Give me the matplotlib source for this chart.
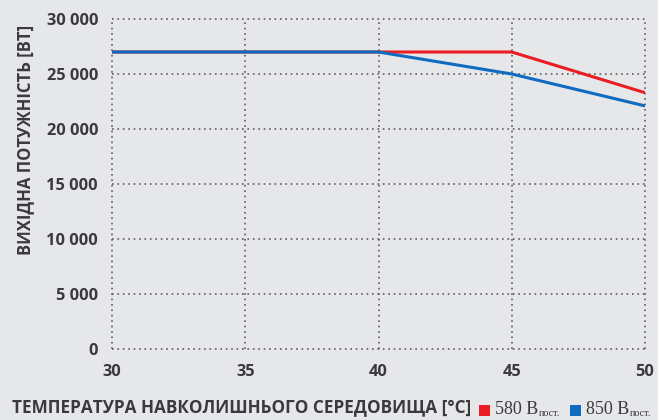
import matplotlib
matplotlib.use("Agg")
import matplotlib.pyplot as plt
from matplotlib.patches import Rectangle
from matplotlib import font_manager as fm

temps = [30, 35, 40, 45, 50]
power_580 = [27000, 27000, 27000, 27000, 23300]
power_850 = [27000, 27000, 27000, 25000, 22100]
xticks = [30, 35, 40, 45, 50]
yticks = [0, 5000, 10000, 15000, 20000, 25000, 30000]
ytick_labels = ["0", "5 000", "10 000", "15 000", "20 000", "25 000", "30 000"]
series_names = ["580 В", "850 В"]
sub_text = "пост."
xlabel = "ТЕМПЕРАТУРА НАВКОЛИШНЬОГО СЕРЕДОВИЩА [°C]"
ylabel = "ВИХІДНА ПОТУЖНІСТЬ [ВТ]"

BG = "#e6e7e9"
TXT = "#3a3a3c"
RED = "#ec1c24"
BLUE = "#0f6bbf"
GRID = "#5e5e60"

bold_path = None
for f in fm.fontManager.ttflist:
    if f.fname.endswith("OpenSans-Bold.ttf"):
        bold_path = f.fname
        break

def bprop(size):
    if bold_path:
        return fm.FontProperties(fname=bold_path, size=size)
    return fm.FontProperties(family='DejaVu Sans', weight='bold', size=size)

fig = plt.figure(figsize=(6.58, 4.2), dpi=100, facecolor=BG)
ax = fig.add_axes([112/658, 71/420, 533/658, 330/420], facecolor=BG)

ax.plot(temps, power_580, color=RED, lw=2.2, solid_capstyle='butt', zorder=3)
ax.plot(temps, power_850, color=BLUE, lw=2.2, solid_capstyle='butt', zorder=4)

ax.set_xlim(30, 50)
ax.set_ylim(0, 30000)
ax.set_xticks(xticks)
ax.set_xticklabels([str(t) for t in xticks])
ax.set_yticks(yticks)
ax.set_yticklabels(ytick_labels)
for s in ax.spines.values():
    s.set_visible(False)
ax.grid(True, color=GRID, linestyle=(0, (1, 2.25)), linewidth=1.2, clip_on=False)
ax.tick_params(axis='both', length=0, colors=TXT)
ax.tick_params(axis='y', pad=10)
ax.tick_params(axis='x', pad=11)
for lab in ax.get_xticklabels() + ax.get_yticklabels():
    lab.set_fontproperties(bprop(11.8))
    lab.set_color(TXT)

fig.text(25/658, 1 - 140/420, ylabel, rotation=90, ha='center', va='center',
         fontproperties=bprop(12), color=TXT)
fig.text(12/658, 1 - 408.5/420, xlabel, ha='left', va='center',
         fontproperties=bprop(12.3), color=TXT)

# legend
fig.canvas.draw()
renderer = fig.canvas.get_renderer()
ly = 1 - 409/420
for name, col, x0 in [(series_names[0], RED, 479), (series_names[1], BLUE, 570)]:
    fig.patches.append(Rectangle((x0/658, (420-415.5)/420), 11/658, 11/420,
                                 transform=fig.transFigure, facecolor=col, edgecolor='none'))
    t = fig.text((x0 + 16)/658, ly, name, ha='left', va='center', fontsize=13,
                 family=['Liberation Serif', 'DejaVu Serif'], color=TXT)
    bb = t.get_window_extent(renderer)
    fig.text((bb.x1 + 0.5)/658, ly - 5/420, sub_text, ha='left', va='center', fontsize=7.3,
             family=['Liberation Serif', 'DejaVu Serif'], color=TXT)

fig.savefig("out.png", dpi=100, facecolor=BG)
